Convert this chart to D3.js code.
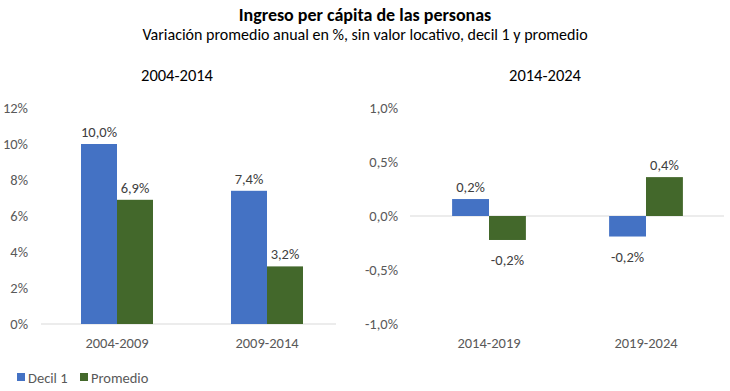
<!DOCTYPE html>
<html>
<head>
<meta charset="utf-8">
<script src="https://cdn.jsdelivr.net/npm/d3@7"></script>
<style>
  body { margin: 0; background: #fff; }
  svg text { font-family: Carlito, Lato, "Liberation Sans", sans-serif; }
</style>
</head>
<body>
<svg id="chart"></svg>
<script>
const width = 730;
const height = 391;

// data
const series = ["Decil 1", "Promedio"];
const colors = ["#4472c4", "#43682b"];

const leftPeriods = ["2004-2009", "2009-2014"];
const leftDecil = [10.0, 7.4];
const leftPromedio = [6.9, 3.2];
const leftTicks = [0, 2, 4, 6, 8, 10, 12];

const rightPeriods = ["2014-2019", "2019-2024"];
const rightDecil = [0.157, -0.19];
const rightPromedio = [-0.222, 0.36];
const rightTicks = [-1.0, -0.5, 0.0, 0.5, 1.0];

const fmtComma = (v, d) => v.toFixed(d).replace(".", ",") + "%";

const svg = d3.select("#chart")
    .attr("width", width)
    .attr("height", height);

// titles
svg.append("text")
    .attr("x", 365).attr("y", 21)
    .attr("text-anchor", "middle")
    .style("font-size", "18px").style("font-weight", "bold").attr("fill", "#000")
    .text("Ingreso per cápita de las personas");
svg.append("text")
    .attr("x", 365).attr("y", 40)
    .attr("text-anchor", "middle")
    .style("font-size", "16px").attr("fill", "#000")
    .text("Variación promedio anual en %, sin valor locativo, decil 1 y promedio");

function panel(opts) {
    const g = svg.append("g");
    const y = d3.scaleLinear().domain(opts.domain).range([324, 108]);
    const x0 = d3.scaleBand().domain(opts.cats).range(opts.xr)
        .paddingInner(opts.pad).paddingOuter(opts.pad / 2);
    const x1 = d3.scaleBand().domain(series).range([0, x0.bandwidth()]);

    g.append("text")
        .attr("x", opts.titleX).attr("y", 80.5)
        .attr("text-anchor", "middle")
        .style("font-size", "16.5px").attr("fill", "#000")
        .text(opts.title);

    // y tick labels only, no axis line
    const yAxis = d3.axisLeft(y).tickValues(opts.ticks).tickSize(0)
        .tickFormat(opts.tickFmt);
    const ya = g.append("g")
        .attr("transform", `translate(${opts.yLabelX},0)`)
        .call(yAxis);
    ya.select(".domain").remove();
    ya.selectAll("text")
        .attr("x", 0)
        .style("font-size", "14.5px")
        .attr("fill", "#595959");

    // baseline
    g.append("line")
        .attr("x1", opts.lineX[0]).attr("x2", opts.lineX[1])
        .attr("y1", y(0)).attr("y2", y(0))
        .attr("stroke", "#d9d9d9").attr("stroke-width", 1);

    const rows = opts.cats.map((c, i) => ({
        cat: c,
        vals: [{ s: series[0], v: opts.a[i] }, { s: series[1], v: opts.b[i] }]
    }));

    const grp = g.selectAll(".grp").data(rows).enter().append("g")
        .attr("transform", d => `translate(${x0(d.cat)},0)`);

    grp.selectAll("rect").data(d => d.vals).enter().append("rect")
        .attr("x", d => x1(d.s))
        .attr("width", x1.bandwidth())
        .attr("y", d => y(Math.max(0, d.v)))
        .attr("height", d => Math.abs(y(d.v) - y(0)))
        .attr("fill", (d, i) => colors[i]);

    grp.selectAll(".lbl").data(d => d.vals).enter().append("text")
        .attr("x", d => x1(d.s) + x1.bandwidth() / 2)
        .attr("y", d => d.v >= 0 ? y(d.v) - 7 : y(d.v) + 25)
        .attr("text-anchor", "middle")
        .style("font-size", "14.5px")
        .attr("fill", "#404040")
        .text(d => fmtComma(d.v, 1));

    // category labels
    g.selectAll(".cat").data(opts.cats).enter().append("text")
        .attr("x", d => x0(d) + x0.bandwidth() / 2)
        .attr("y", 348)
        .attr("text-anchor", "middle")
        .style("font-size", "14.5px")
        .attr("fill", "#595959")
        .text(d => d);
}

panel({
    title: "2004-2014", titleX: 177,
    cats: leftPeriods, a: leftDecil, b: leftPromedio,
    domain: [0, 12], ticks: leftTicks, tickFmt: d => d + "%",
    xr: [42, 342], pad: 0.52, yLabelX: 28, lineX: [41, 336]
});

panel({
    title: "2014-2024", titleX: 545,
    cats: rightPeriods, a: rightDecil, b: rightPromedio,
    domain: [-1, 1], ticks: rightTicks, tickFmt: d => fmtComma(d, 1),
    xr: [410.5, 724.5], pad: 0.53, yLabelX: 398, lineX: [410, 724]
});

// legend
const legend = svg.append("g");
series.forEach((s, i) => {
    const lx = [17, 80][i];
    legend.append("rect")
        .attr("x", lx).attr("y", 373)
        .attr("width", 8).attr("height", 8)
        .attr("fill", colors[i]);
    legend.append("text")
        .attr("x", lx + 11).attr("y", 382.5)
        .style("font-size", "14.5px")
        .attr("fill", "#595959")
        .text(s);
});
</script>
</body>
</html>
